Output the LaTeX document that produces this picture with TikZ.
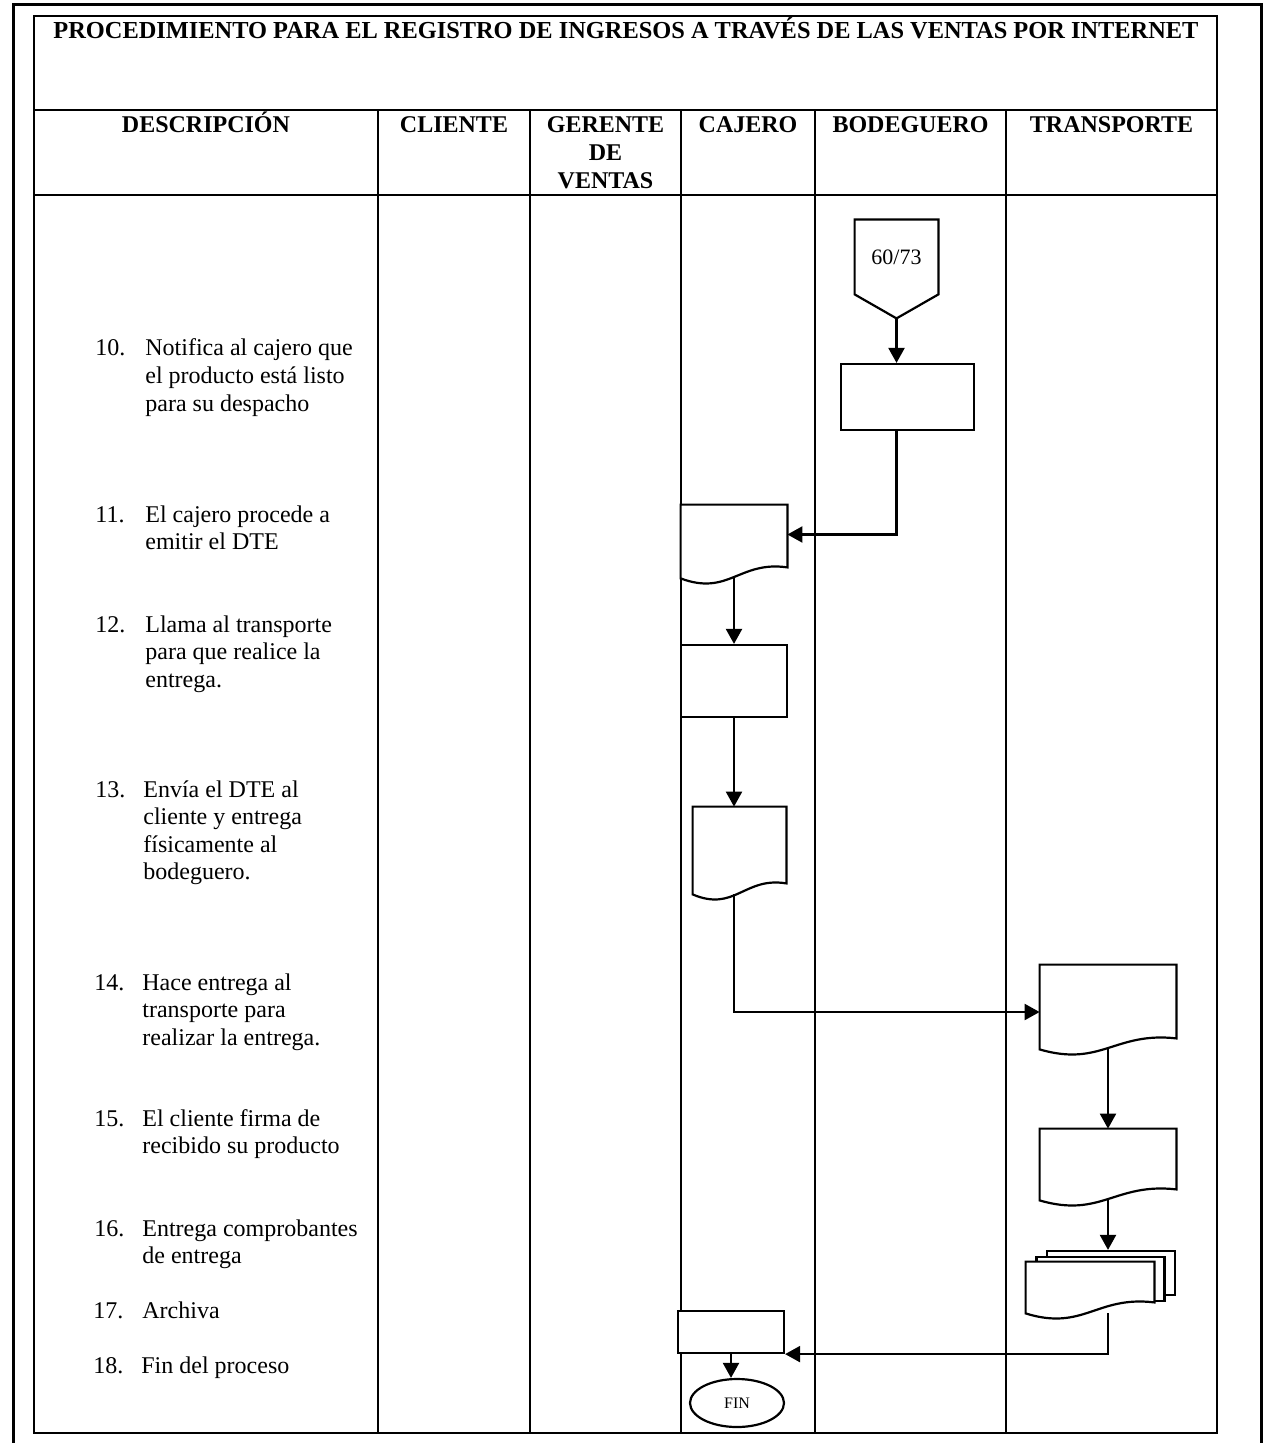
\documentclass[tikz,border=0pt]{standalone}
\usepackage{fontspec}
\setmainfont{Liberation Serif}
\usetikzlibrary{arrows.meta,calc,shapes.geometric}

% sheet with a wavy lower edge, drawn round an empty node
\newcommand{\docsheet}[1]{%
  \draw[line width=1.1pt,fill=white] (#1.south west) -- (#1.north west) -- (#1.north east)
    -- ($(#1.south east)+(0,-11)$)
    .. controls ($(#1.south east)!0.45!(#1.south west)+(0,-18)$)
    and ($(#1.south west)!0.45!(#1.south east)+(0,18)$) .. (#1.south west) -- cycle;}
% lines hang from the first baseline
\newcommand{\lines}[2][130pt]{\parbox[t]{#1}{\raggedright #2}}

\begin{document}
\begin{tikzpicture}[x=0.5pt,y=-0.5pt,>={Triangle[length=7.5pt,width=8pt]},
                    font=\fontsize{12}{13.8}\selectfont,
                    frame/.style={line width=1.2pt},
                    lane/.style={line width=1pt},
                    head/.style={font=\fontsize{12}{13.8}\selectfont\bfseries,anchor=base,inner sep=0},
                    num/.style={anchor=base west,inner sep=0},
                    desc/.style={anchor=base west,inner sep=0},
                    proc/.style={draw,line width=1.1pt,fill=white,inner sep=0},
                    doc/.style={inner sep=0},
                    flow/.style={line width=1.1pt}]
\useasboundingbox (0,0) rectangle (1266,1443);

% page frame and table
\draw[line width=1.5pt] (13,1443) -- (13,5) -- (1261,5) -- (1261,1443);
\draw[frame] (34,16) rectangle (1217,1433);
\draw[frame] (34,110) -- (1217,110) (34,195) -- (1217,195);
\draw[lane] (378,110) -- (378,1433) (530,110) -- (530,1433) (681,110) -- (681,1433)
            (815,110) -- (815,1433) (1006,110) -- (1006,1433);

\node[head,font=\fontsize{12.2}{14}\selectfont\bfseries] (title) at (626,39) {PROCEDIMIENTO PARA EL REGISTRO DE INGRESOS A TRAVÉS DE LAS VENTAS POR INTERNET};
\node[head] (hdesc) at (206,133) {DESCRIPCIÓN};
\node[head] (hcli) at (454,133) {CLIENTE};
\node[head] (hger) at (605.5,133) {\parbox[t]{70pt}{\centering GERENTE\\DE\\VENTAS}};
\node[head] (hcaj) at (748,133) {CAJERO};
\node[head] (hbod) at (910.5,133) {BODEGUERO};
\node[head] (htra) at (1111.5,133) {TRANSPORTE};

% steps
\node[num] (n10) at (95,356) {10.};
\node[desc] (d10) at (145,356) {\lines{Notifica al cajero que\\el producto está listo\\para su despacho}};
\node[num] (n11) at (95,522) {11.};
\node[desc] (d11) at (145,522) {\lines{El cajero procede a\\emitir el DTE}};
\node[num] (n12) at (95,632) {12.};
\node[desc] (d12) at (145,632) {\lines{Llama al transporte\\para que realice la\\entrega.}};
\node[num] (n13) at (95,797) {13.};
\node[desc] (d13) at (143,797) {\lines{Envía el DTE al\\cliente y entrega\\físicamente al\\bodeguero.}};
\node[num] (n14) at (94,990) {14.};
\node[desc] (d14) at (142,990) {\lines{Hace entrega al\\transporte para\\realizar la entrega.}};
\node[num] (n15) at (94,1126) {15.};
\node[desc] (d15) at (142,1126) {\lines{El cliente firma de\\recibido su producto}};
\node[num] (n16) at (94,1236) {16.};
\node[desc] (d16) at (142,1236) {\lines{Entrega comprobantes\\de entrega}};
\node[num] (n17) at (93,1318) {17.};
\node[desc] (d17) at (142,1318) {Archiva};
\node[num] (n18) at (93,1373) {18.};
\node[desc] (d18) at (141,1373) {Fin del proceso};

% off-page connector
\node[inner sep=0,minimum width=41.5pt,minimum height=37pt,font=\fontsize{11}{13}\selectfont] (conn) at (896.5,257) {60/73};
\coordinate (conn tip) at ($(conn.south)+(0,24)$);
\draw[line width=1.1pt] (conn.south west) -- (conn.north west) -- (conn.north east) -- (conn.south east) -- (conn tip) -- cycle;

\node[proc,minimum width=66.5pt,minimum height=33pt] (notif) at (907.5,397) {};
\node[doc,minimum width=53pt,minimum height=36.5pt] (dte) at (734,541.5) {};
\node[proc,minimum width=53pt,minimum height=36pt] (llama) at (734,681) {};
\node[doc,minimum width=46.5pt,minimum height=43.5pt] (envia) at (739.5,850.5) {};
\node[doc,minimum width=68pt,minimum height=42pt] (entrega) at (1108,1007) {};
\node[doc,minimum width=68pt,minimum height=35.5pt] (firma) at (1108,1164.5) {};
\node[proc,minimum width=64pt,minimum height=22pt] (compr3) at (1111,1273) {};
\node[proc,minimum width=64pt,minimum height=22pt] (compr2) at (1100.5,1279) {};
\node[doc,minimum width=64pt,minimum height=25.5pt] (compr) at (1090,1287.5) {};
\node[proc,minimum width=53pt,minimum height=21pt] (archiva) at (731,1332) {};
\node[draw,ellipse,line width=1.1pt,minimum width=47pt,minimum height=24pt,inner sep=0,
      font=\fontsize{8}{9}\selectfont] (fin) at (737,1403) {FIN};
\docsheet{dte}
\docsheet{envia}
\docsheet{entrega}
\docsheet{firma}
\docsheet{compr}

\draw[flow,->] (conn tip) -- (conn tip |- notif.north);
\draw[flow,->] (notif.south -| conn tip) |- ([yshift=3.5pt]dte.east);
\draw[flow,->] (dte.south) -- (llama.north);
\draw[flow,->] (llama.south) -- (llama.south |- envia.north);
\draw[flow,->] (llama.south |- envia.south) |- ([yshift=-2.5pt]entrega.west);
\draw[flow,->] (entrega.south) -- (firma.north);
\draw[flow,->] (firma.south) -- (firma.south |- compr3.north);
\draw[flow,->] (compr.south -| firma.south) |- (archiva.south east);
\draw[flow,->] (archiva.south) -- (archiva.south |- fin.north);
\end{tikzpicture}
\end{document}
